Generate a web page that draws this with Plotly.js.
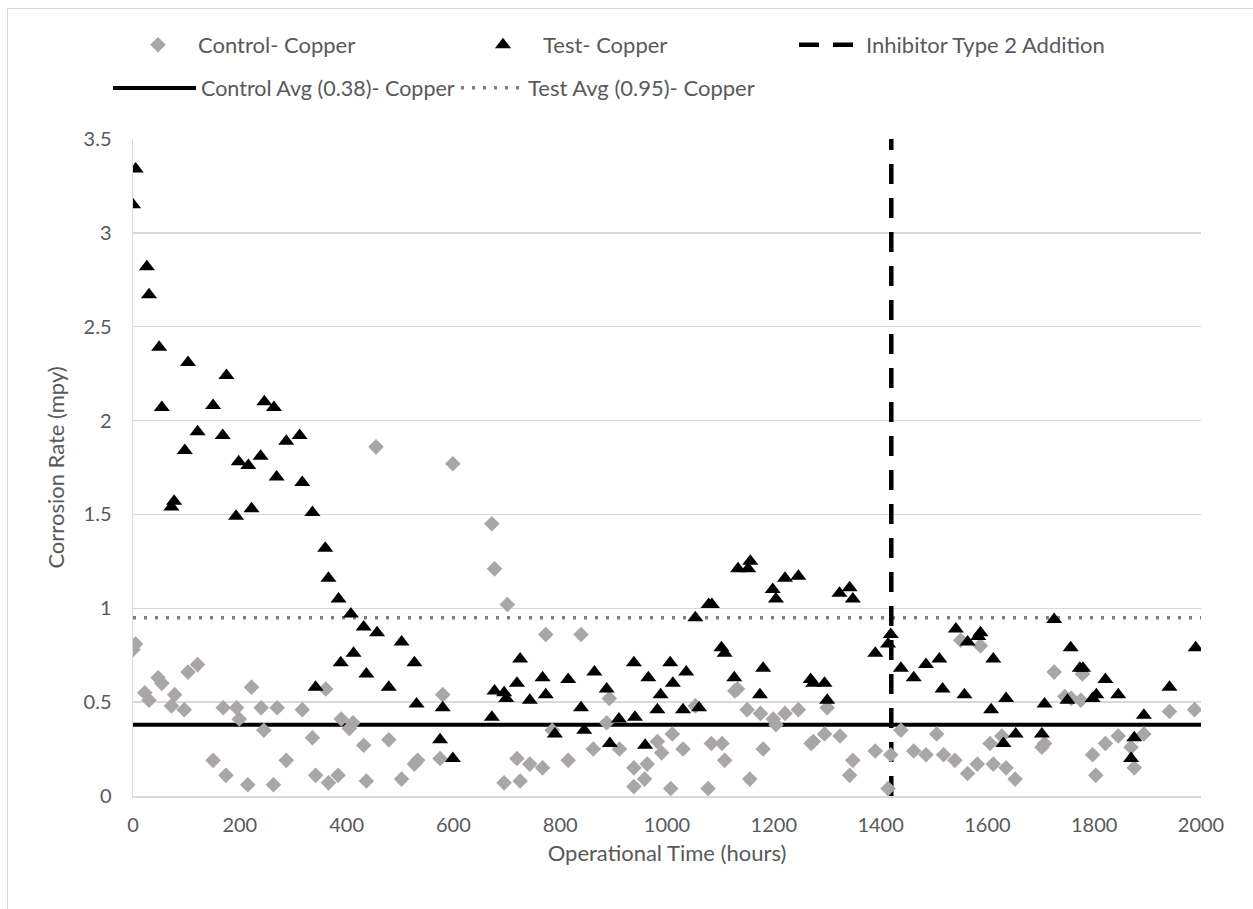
<!DOCTYPE html>
<html>
<head>
<meta charset="utf-8">
<script src="https://cdn.plot.ly/plotly-3.0.1.min.js"></script>
<style>
html,body{margin:0;padding:0;background:#fff;}
#wrap{position:relative;width:1253px;height:909px;overflow:hidden;}
#frame{position:absolute;left:7px;top:8px;width:1300px;height:1000px;border-left:1.5px solid #d9d9d9;border-top:1.5px solid #d9d9d9;pointer-events:none;}
#chart{position:absolute;left:0;top:0;width:1253px;height:909px;}
</style>
</head>
<body>
<div id="wrap"><div id="chart"></div><div id="frame"></div></div>
<script>
// Control- Copper (diamonds)
var controlHours = [0,5,22,30,47,54,72,78,96,103,121,150,169,174,194,199,215,222,240,245,263,270,287,317,336,342,361,366,384,390,405,412,432,437,455,479,503,527,533,575,580,599,672,677,695,701,719,725,743,767,773,785,815,839,862,887,892,911,938,938,958,963,982,990,1007,1010,1030,1053,1077,1083,1103,1108,1127,1132,1150,1155,1175,1180,1199,1204,1221,1246,1270,1274,1295,1300,1324,1342,1348,1390,1414,1419,1438,1462,1485,1505,1518,1539,1550,1563,1581,1587,1605,1611,1627,1635,1652,1702,1707,1725,1745,1757,1775,1778,1797,1803,1821,1845,1869,1875,1893,1941,1988];
var controlRate = [0.78,0.81,0.55,0.51,0.63,0.60,0.48,0.54,0.46,0.66,0.70,0.19,0.47,0.11,0.47,0.41,0.06,0.58,0.47,0.35,0.06,0.47,0.19,0.46,0.31,0.11,0.57,0.07,0.11,0.41,0.36,0.39,0.27,0.08,1.86,0.30,0.09,0.17,0.19,0.20,0.54,1.77,1.45,1.21,0.07,1.02,0.20,0.08,0.17,0.15,0.86,0.35,0.19,0.86,0.25,0.39,0.52,0.25,0.15,0.05,0.09,0.17,0.29,0.23,0.04,0.33,0.25,0.48,0.04,0.28,0.28,0.19,0.56,0.57,0.46,0.09,0.44,0.25,0.41,0.38,0.44,0.46,0.28,0.29,0.33,0.47,0.32,0.11,0.19,0.24,0.04,0.22,0.35,0.24,0.22,0.33,0.22,0.19,0.83,0.12,0.17,0.80,0.28,0.17,0.32,0.15,0.09,0.26,0.28,0.66,0.53,0.52,0.51,0.65,0.22,0.11,0.28,0.32,0.26,0.15,0.33,0.45,0.46];

// Test- Copper (triangles)
var testHours = [0,5,26,30,49,54,72,77,97,103,121,150,168,175,193,198,216,222,239,246,264,269,287,312,317,336,342,360,366,385,389,408,413,432,437,457,479,503,527,531,575,580,599,672,677,695,699,719,725,743,767,773,790,815,839,845,864,887,893,910,938,940,959,965,982,988,1006,1011,1030,1036,1053,1060,1078,1084,1102,1108,1126,1133,1152,1156,1174,1180,1198,1204,1221,1246,1269,1274,1295,1300,1323,1342,1348,1390,1414,1419,1438,1462,1485,1510,1516,1541,1557,1563,1583,1587,1607,1611,1630,1635,1653,1702,1707,1725,1750,1756,1773,1779,1797,1804,1821,1845,1869,1875,1893,1941,1990];
var testRate = [3.15,3.34,2.82,2.67,2.39,2.07,1.54,1.57,1.84,2.31,1.94,2.08,1.92,2.24,1.49,1.78,1.76,1.53,1.81,2.10,2.07,1.70,1.89,1.92,1.67,1.51,0.58,1.32,1.16,1.05,0.71,0.97,0.76,0.90,0.65,0.87,0.58,0.82,0.71,0.49,0.30,0.47,0.20,0.42,0.56,0.55,0.52,0.60,0.73,0.51,0.63,0.54,0.33,0.62,0.47,0.35,0.66,0.57,0.28,0.41,0.71,0.42,0.27,0.63,0.46,0.54,0.71,0.60,0.46,0.66,0.95,0.47,1.02,1.02,0.79,0.76,0.63,1.21,1.21,1.25,0.54,0.68,1.10,1.05,1.16,1.17,0.62,0.60,0.60,0.51,1.08,1.11,1.05,0.76,0.81,0.86,0.68,0.63,0.70,0.73,0.57,0.89,0.54,0.82,0.85,0.87,0.46,0.73,0.28,0.52,0.33,0.33,0.49,0.94,0.51,0.79,0.68,0.68,0.52,0.54,0.62,0.54,0.20,0.31,0.43,0.58,0.79];

// Reference lines
var avgSpan = [0, 2000];
var controlAvg = 0.38;
var testAvg = 0.95;
var inhibitorHour = 1420;
var yRange = [0, 3.5];

var xTicks = [0,200,400,600,800,1000,1200,1400,1600,1800,2000];
var xTickText = ['0','200','400','600','800','1000','1200','1400','1600','1800','2000'];
var yTicks = [0,0.5,1,1.5,2,2.5,3,3.5];
var yTickText = ['0','0.5','1','1.5','2','2.5','3','3.5'];

var FONT = 'Lato, "Open Sans", sans-serif';
var TXT = '#595959';

var traces = [
  {x: avgSpan, y: [controlAvg, controlAvg], mode: 'lines', name: 'Control Avg (0.38)- Copper',
   line: {color: '#000', width: 4}, legend: 'legend4', hoverinfo: 'skip'},
  {x: avgSpan, y: [testAvg, testAvg], mode: 'lines', name: 'Test Avg (0.95)- Copper',
   line: {color: '#7f7f7f', width: 3.5, dash: '3px,8px'}, legend: 'legend5', hoverinfo: 'skip'},
  {x: [inhibitorHour, inhibitorHour], y: yRange, mode: 'lines', name: 'Inhibitor Type 2 Addition',
   line: {color: '#000', width: 4.5, dash: '20px,14px'}, legend: 'legend3', hoverinfo: 'skip'},
  {x: controlHours, y: controlRate, mode: 'markers', name: 'Control- Copper',
   marker: {symbol: 'diamond', size: 12, color: '#aaa6a6', line: {width: 0}}, legend: 'legend'},
  {x: testHours, y: testRate, mode: 'markers', name: 'Test- Copper',
   marker: {symbol: 'triangle-up', size: 14, color: '#000', line: {width: 0}}, legend: 'legend2'}
];

var plotL = 133, plotR = 1201, plotT = 139, plotB = 796;
function px2x(p){ return (p - plotL) / (plotR - plotL); }
function py2y(p){ return (plotB - p) / (plotB - plotT); }
function leg(px, py, w, fs){
  return {x: px2x(px), y: py2y(py), xanchor: 'left', yanchor: 'middle', orientation: 'h',
          itemwidth: w, font: {family: FONT, size: fs, color: TXT}, bgcolor: 'rgba(0,0,0,0)',
          itemclick: false, itemdoubleclick: false};
}

var layout = {
  width: 1253, height: 909,
  margin: {l: plotL, r: 1253 - plotR, t: plotT, b: 909 - plotB},
  paper_bgcolor: '#fff', plot_bgcolor: '#fff',
  font: {family: FONT, size: 20, color: TXT},
  showlegend: true,
  legend: leg(118, 45, 70, 22),
  legend2: leg(463, 45, 70, 22),
  legend3: leg(794, 45, 62, 22),
  legend4: leg(108, 88, 83, 21.5),
  legend5: leg(456, 88, 62, 22),
  xaxis: {range: [0, 2000], tickvals: xTicks, ticktext: xTickText, showgrid: false, zeroline: false,
          showline: true, linecolor: '#d9d9d9', linewidth: 1.5, ticks: '', ticklabelstandoff: 10,
          tickfont: {family: FONT, size: 20, color: TXT},
          title: {text: 'Operational Time (hours)', font: {family: FONT, size: 22, color: TXT}, standoff: 11}},
  yaxis: {range: yRange, tickvals: yTicks, ticktext: yTickText, showgrid: true, gridcolor: '#d9d9d9', gridwidth: 1.5,
          zeroline: false, showline: true, linecolor: '#d9d9d9', linewidth: 1.5, ticks: '', ticklabelstandoff: 16,
          tickfont: {family: FONT, size: 20, color: TXT},
          title: {text: 'Corrosion Rate (mpy)', font: {family: FONT, size: 22, color: TXT}, standoff: 13}},
  hovermode: false
};

Plotly.newPlot('chart', traces, layout, {displayModeBar: false, staticPlot: true});
</script>
</body>
</html>
